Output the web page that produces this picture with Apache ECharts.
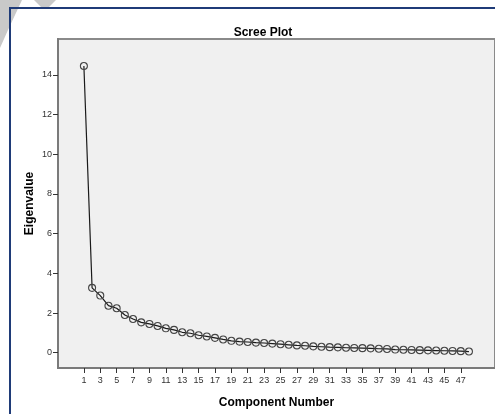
<!DOCTYPE html>
<html>
<head>
<meta charset="utf-8">
<script src="https://cdn.jsdelivr.net/npm/echarts@6/dist/echarts.min.js"></script>
<style>
  html, body { margin: 0; padding: 0; background: #fff; }
  #chart { width: 495px; height: 414px; }
</style>
</head>
<body>
<div id="chart"></div>
<script>
// component numbers 1..48 and their eigenvalues
var components = [1, 2, 3, 4, 5, 6, 7, 8, 9, 10, 11, 12, 13, 14, 15, 16, 17, 18, 19, 20, 21, 22, 23, 24,
    25, 26, 27, 28, 29, 30, 31, 32, 33, 34, 35, 36, 37, 38, 39, 40, 41, 42, 43, 44, 45, 46, 47, 48];
var eigenvalues = [14.45, 3.27, 2.88, 2.37, 2.24, 1.90, 1.70, 1.53, 1.45, 1.35, 1.23, 1.15, 1.03, 0.98,
    0.88, 0.82, 0.75, 0.67, 0.60, 0.56, 0.54, 0.51, 0.49, 0.46, 0.43, 0.40, 0.37, 0.35, 0.32, 0.30,
    0.28, 0.27, 0.25, 0.24, 0.23, 0.22, 0.20, 0.19, 0.16, 0.15, 0.14, 0.13, 0.12, 0.11, 0.10, 0.09,
    0.08, 0.06];
var xTicks = [1, 3, 5, 7, 9, 11, 13, 15, 17, 19, 21, 23, 25, 27, 29, 31, 33, 35, 37, 39, 41, 43, 45, 47];
var yTicks = [0, 2, 4, 6, 8, 10, 12, 14];

var font = 'Liberation Sans, Arial, sans-serif';
var points = components.map(function (c, i) { return [c, eigenvalues[i]]; });

var option = {
    backgroundColor: '#fff',
    animation: false,
    title: {
        text: 'Scree Plot',
        left: 258,
        top: 22,
        textAlign: 'center',
        textStyle: { fontFamily: font, fontSize: 12, fontWeight: 'bold', color: '#000' }
    },
    graphic: [
        // grey watermark strokes in the corner
        { type: 'polygon', shape: { points: [[0, 0], [22, 0], [8, 30], [0, 48]] }, style: { fill: '#c9c9c9' }, z: 0 },
        { type: 'polygon', shape: { points: [[34, 0], [56, 0], [48, 8], [42, 8]] }, style: { fill: '#c9c9c9' }, z: 0 },
        // outer frame
        {
            type: 'rect',
            shape: { x: 10, y: 8, width: 520, height: 440 },
            style: { fill: 'none', stroke: '#1f3b78', lineWidth: 2 },
            z: 1
        }
    ],
    grid: {
        left: 58,
        top: 39,
        width: 439,
        height: 330,
        show: true,
        backgroundColor: '#f0f0f0',
        borderColor: '#8a8a8a',
        borderWidth: 2
    },
    xAxis: {
        type: 'value',
        min: -2.16,
        max: 51.18,
        name: 'Component Number',
        nameLocation: 'middle',
        nameGap: 29,
        nameTextStyle: { fontFamily: font, fontSize: 12, fontWeight: 'bold', color: '#000' },
        axisLine: { show: true, onZero: false, lineStyle: { color: '#7a7a7a', width: 2 } },
        axisTick: { show: true, length: 5, customValues: xTicks, lineStyle: { color: '#333' } },
        axisLabel: {
            customValues: xTicks,
            margin: 8,
            fontFamily: font,
            fontSize: 9,
            color: '#333'
        },
        splitLine: { show: false }
    },
    yAxis: {
        type: 'value',
        min: -0.77,
        max: 15.81,
        name: 'Eigenvalue',
        nameLocation: 'middle',
        nameGap: 22,
        nameMoveOverlap: false,
        nameTextStyle: { fontFamily: font, fontSize: 12, fontWeight: 'bold', color: '#000' },
        axisLine: { show: true, onZero: false, lineStyle: { color: '#7a7a7a', width: 2 } },
        axisTick: { show: true, length: 5, customValues: yTicks, lineStyle: { color: '#333' } },
        axisLabel: {
            customValues: yTicks,
            margin: 6,
            fontFamily: font,
            fontSize: 9,
            color: '#333'
        },
        splitLine: { show: false }
    },
    series: [
        {
            type: 'line',
            data: points,
            symbol: 'circle',
            symbolSize: 7,
            lineStyle: { color: '#1a1a1a', width: 1.2 },
            itemStyle: { color: 'rgba(0,0,0,0)', borderColor: '#444', borderWidth: 1.1 },
            emphasis: { disabled: true }
        }
    ]
};

var chart = echarts.init(document.getElementById('chart'));
chart.setOption(option);
</script>
</body>
</html>
